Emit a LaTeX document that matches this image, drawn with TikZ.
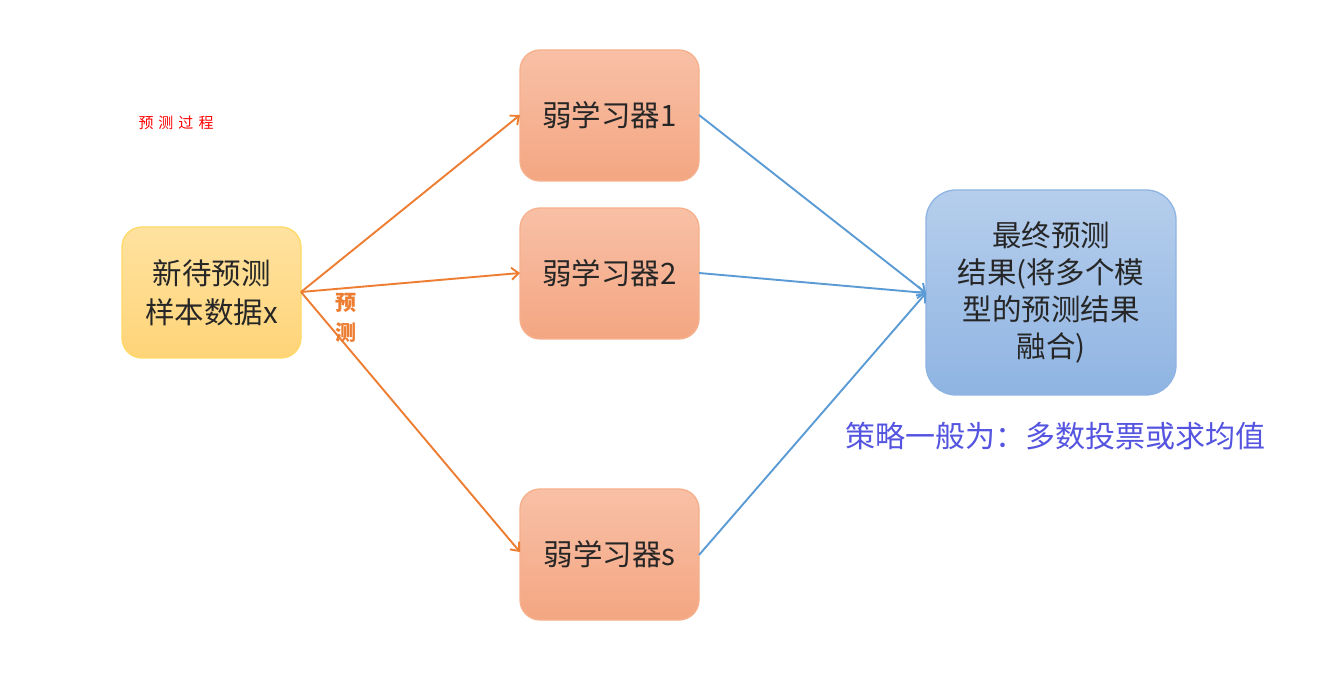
\documentclass[tikz,border=0pt]{standalone}
\usepackage{fontspec}
\setmainfont{Noto Sans CJK SC}
\usetikzlibrary{arrows.meta}
\definecolor{orangeln}{HTML}{ED7D31}
\definecolor{blueln}{HTML}{5B9BD5}
\definecolor{stratc}{HTML}{5454E0}
\definecolor{inborder}{HTML}{FFD966}
\definecolor{intop}{RGB}{255,226,160}
\definecolor{inbot}{RGB}{255,212,120}
\definecolor{lborder}{RGB}{246,176,140}
\definecolor{ltop}{RGB}{248,192,166}
\definecolor{lbot}{RGB}{244,166,130}
\definecolor{fborder}{RGB}{142,180,227}
\definecolor{ftop}{RGB}{182,206,236}
\definecolor{fbot}{RGB}{143,180,226}
\tikzset{
  box/.style={rounded corners=20pt, minimum width=179pt, minimum height=131pt, align=center, line width=1.3pt, inner sep=0pt},
  inbox/.style={box, draw=inborder, top color=intop, bottom color=inbot},
  learner/.style={box, draw=lborder, top color=ltop, bottom color=lbot},
  finalbox/.style={box, rounded corners=30pt, minimum width=250pt, minimum height=205pt, draw=fborder, top color=ftop, bottom color=fbot},
  txt/.style={font=\fontsize{29.5}{39}\selectfont, text=black!85},
  oarrow/.style={draw=orangeln, line width=1.9pt, -{Straight Barb[length=7pt,width=12pt]}},
  barrow/.style={draw=blueln, line width=1.9pt, -{Straight Barb[length=7pt,width=12pt]}},
}
\begin{document}
\begin{tikzpicture}[x=1pt,y=-1pt]
\useasboundingbox[fill=white] (0,0) rectangle (1342,700);
\node[inbox, txt] (in) at (211.5,292.5) {新待预测\\样本数据x};
\node[learner, txt] (l1) at (609.5,115.5) {弱学习器1};
\node[learner, txt] (l2) at (609.5,273.5) {弱学习器2};
\node[learner, txt] (ls) at (609.5,554.5) {弱学习器s};
\node[finalbox, txt, font=\fontsize{29.5}{37}\selectfont] (fin) at (1051,292.5) {最终预测\\结果(将多个模\\型的预测结果\\融合)};
\node[text=red, font=\fontsize{15}{17}\selectfont] (title) at (176,123) {预\,\,测\,\,过\,\,程};
\node[text=orangeln, font=\fontsize{21}{30}\selectfont\bfseries, align=center] (pred) at (346,318) {预\\测};
\node[text=stratc, font=\fontsize{30}{34}\selectfont, anchor=west] (strat) at (842,436) {策略一般为：多数投票或求均值};
\coordinate (o) at (301,292);
\coordinate (t1) at (520,115);
\coordinate (t2) at (520,273);
\coordinate (ts) at (520,552);
\coordinate (fi) at (926,293);
\coordinate (r1) at (699,115);
\coordinate (r2) at (699,273);
\coordinate (rs) at (699,555);
\draw[oarrow] (o) -- (t1);
\draw[oarrow] (o) -- (t2);
\draw[oarrow] (o) -- (ts);
\draw[barrow] (r1) -- (fi);
\draw[barrow] (r2) -- (fi);
\draw[barrow] (rs) -- (fi);
\end{tikzpicture}
\end{document}
